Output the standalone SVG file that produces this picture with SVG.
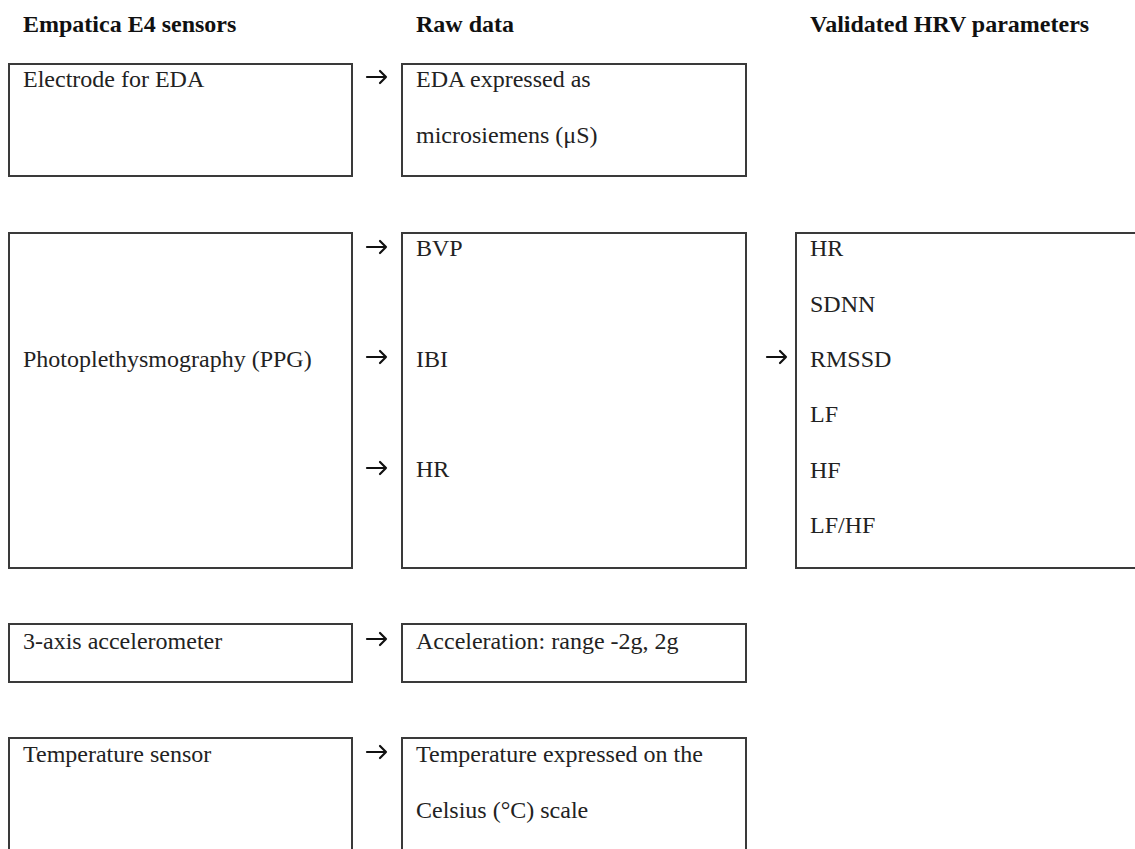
<svg xmlns="http://www.w3.org/2000/svg" width="1135" height="849" viewBox="0 0 1135 849">
<style>
.box{fill:#fff;stroke:#3a3a3a;stroke-width:2}
.t{font-family:"Liberation Serif","Times New Roman",serif;font-size:24px;fill:#222}
.h{font-family:"Liberation Serif","Times New Roman",serif;font-size:24px;font-weight:bold;fill:#111}
.arr{fill:none;stroke:#111;stroke-width:2.2;stroke-linecap:round;stroke-linejoin:round}
</style>
<rect width="1135" height="849" fill="#fff"/>
<g id="headers">
<text class="h" x="23" y="32">Empatica E4 sensors</text>
<text class="h" x="416" y="32">Raw data</text>
<text class="h" x="810" y="32">Validated HRV parameters</text>
</g>
<g id="n-eda">
<rect class="box" x="9" y="64" width="343" height="112"/>
<text class="t" x="23" y="87">Electrode for EDA</text>
</g>
<g id="n-eda-raw">
<rect class="box" x="402" y="64" width="344" height="112"/>
<text class="t" x="416" y="87">EDA expressed as</text>
<text class="t" x="416" y="143">microsiemens (μS)</text>
</g>
<g id="n-ppg">
<rect class="box" x="9" y="233" width="343" height="335"/>
<text class="t" x="23" y="367">Photoplethysmography (PPG)</text>
</g>
<g id="n-ppg-raw">
<rect class="box" x="402" y="233" width="344" height="335"/>
<text class="t" x="416" y="256">BVP</text>
<text class="t" x="416" y="367">IBI</text>
<text class="t" x="416" y="477">HR</text>
</g>
<g id="n-hrv">
<rect class="box" x="796" y="233" width="345" height="335"/>
<text class="t" x="810" y="256">HR</text>
<text class="t" x="810" y="312">SDNN</text>
<text class="t" x="810" y="367">RMSSD</text>
<text class="t" x="810" y="422">LF</text>
<text class="t" x="810" y="478">HF</text>
<text class="t" x="810" y="533">LF/HF</text>
</g>
<g id="n-acc">
<rect class="box" x="9" y="624" width="343" height="58"/>
<text class="t" x="23" y="649">3-axis accelerometer</text>
</g>
<g id="n-acc-raw">
<rect class="box" x="402" y="624" width="344" height="58"/>
<text class="t" x="416" y="649">Acceleration: range -2g, 2g</text>
</g>
<g id="n-temp">
<rect class="box" x="9" y="738" width="343" height="130"/>
<text class="t" x="23" y="762">Temperature sensor</text>
</g>
<g id="n-temp-raw">
<rect class="box" x="402" y="738" width="344" height="130"/>
<text class="t" x="416" y="762">Temperature expressed on the</text>
<text class="t" x="416" y="818">Celsius (°C) scale</text>
</g>
<g id="connectors">
<path class="arr" d="M367 77H386M380 71L386 77L380 83"/>
<path class="arr" d="M367 247H386M380 241L386 247L380 253"/>
<path class="arr" d="M367 357H386M380 351L386 357L380 363"/>
<path class="arr" d="M367 468H386M380 462L386 468L380 474"/>
<path class="arr" d="M767 357H786M780 351L786 357L780 363"/>
<path class="arr" d="M367 639H386M380 633L386 639L380 645"/>
<path class="arr" d="M367 752H386M380 746L386 752L380 758"/>
</g>
</svg>
